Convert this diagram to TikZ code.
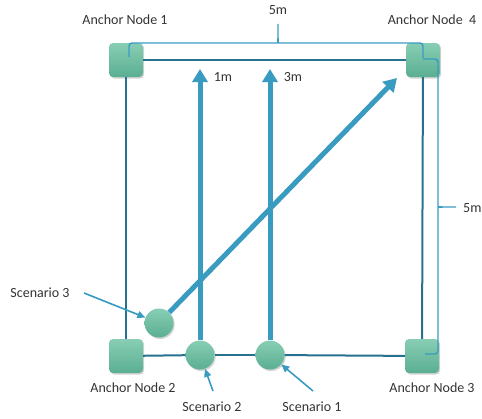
\documentclass[tikz,border=0pt]{standalone}
\usepackage{fontspec}
\setmainfont{Carlito}
\usetikzlibrary{arrows.meta,shadows}
\definecolor{edgeblue}{HTML}{28708F}
\definecolor{rayblue}{HTML}{3A9BC1}
\definecolor{nodetop}{HTML}{88CEB4}
\definecolor{nodebot}{HTML}{5AAE92}
\tikzset{
  anchorbox/.style={rectangle, rounded corners=4pt, minimum size=34pt, inner sep=0pt,
    top color=nodetop, bottom color=nodebot, draw=none,
    drop shadow={opacity=0.35, shadow xshift=1.2pt, shadow yshift=-1.5pt}},
  tagdot/.style={circle, minimum size=29pt, inner sep=0pt,
    top color=nodetop, bottom color=nodebot, draw=none,
    drop shadow={opacity=0.35, shadow xshift=1.2pt, shadow yshift=-1.5pt}},
  lbl/.style={inner sep=0pt, font=\fontsize{14}{16}\selectfont, text=black!80},
  edge/.style={draw=edgeblue, line width=2pt},
  ray/.style={draw=rayblue, line width=5pt, -{Triangle[length=13pt,width=15pt]}},
  pointer/.style={draw=rayblue, line width=1.6pt, -{Triangle[length=8pt,width=7pt]}},
  brace/.style={draw=rayblue, line width=1.4pt, rounded corners=3pt}
}
\begin{document}
\begin{tikzpicture}[x=1pt,y=-1pt]
				\useasboundingbox (0,0) rectangle (482,418);
				
				% anchor nodes and tags
				\node[anchorbox] (a1) at (126,60) {};
				\node[anchorbox] (a4) at (423,60) {};
				\node[anchorbox] (a2) at (126,356) {};
				\node[anchorbox] (a3) at (422,356) {};
				\node[tagdot] (s3) at (159,323) {};
				\node[tagdot] (s2) at (200,355) {};
				\node[tagdot] (s1) at (270,355) {};
				
				\draw[edge] (a1) -- (a4);
				\draw[edge] (a1) -- (a2);
				\draw[edge] (a4) -- (a3);
				\draw[edge] (a2) -- (s2);
				\draw[edge] (s2) -- (s1);
				\draw[edge] (s1) -- (a3);
				
				% measured paths
				\coordinate (t2) at (200,69);
				\coordinate (t1) at (270,69);
				\coordinate (t3) at (397,78);
				\draw[ray] (s2) -- (t2);
				\draw[ray] (s1) -- (t1);
				\draw[ray] (s3) -- (t3);
				\node[lbl] (d2) at (223,77) {1m};
				\node[lbl] (d1) at (293,77) {3m};
				
				% braces
				\draw[brace] (129,57) |- (274,43) .. controls (278,43) .. (278,22) .. controls (278,43) .. (282,43) -| (423,58);
				\draw[brace] (423,59) -| (438,203) .. controls (438,207) .. (458,207) .. controls (438,207) .. (438,211) |- (425,354);
				\node[lbl] (w) at (278,10) {5m};
				\node[lbl, anchor=west] (h) at (463,208) {5m};
				
				% labels
				\node[lbl] (l1) at (125,20) {Anchor Node 1};
				\node[lbl] (l4) at (432,20) {Anchor Node\ \ 4};
				\node[lbl] (l2) at (133,388) {Anchor Node 2};
				\node[lbl] (l3) at (432,388) {Anchor Node 3};
				\node[lbl] (n3) at (40,293) {Scenario 3};
				\node[lbl] (n2) at (212,407) {Scenario 2};
				\node[lbl] (n1) at (312,407) {Scenario 1};
				
				\coordinate (p3) at (84,293);
				\coordinate (p2) at (213,391);
				\coordinate (p1) at (313,391);
				\draw[pointer] (p3) -- (s3);
				\draw[pointer] (p2) -- (s2);
				\draw[pointer] (p1) -- (s1);
\end{tikzpicture}
\end{document}
